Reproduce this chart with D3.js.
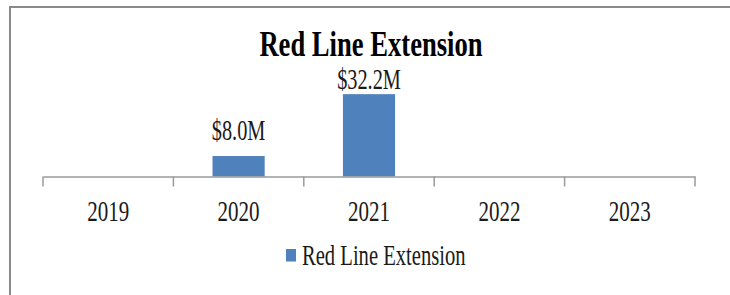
<!DOCTYPE html>
<html>
<head>
<meta charset="utf-8">
<script src="https://cdn.jsdelivr.net/npm/d3@7"></script>
<style>
  html, body { margin: 0; padding: 0; background: #fff; }
  svg { display: block; font-family: "Liberation Serif", serif; }
</style>
</head>
<body>
<div id="chart"></div>
<script>
// data (millions of dollars, null = no spending that year)
const years = ['2019', '2020', '2021', '2022', '2023'];
const spend = [null, 8.0, 32.2, null, null];
const seriesName = 'Red Line Extension';
const chartTitle = 'Red Line Extension';

const width = 730;
const height = 295;
const barColor = '#4f81bd';

const svg = d3.select('#chart')
  .append('svg')
  .attr('width', width)
  .attr('height', height);

// the source picture is squashed sideways, so text is condensed to match
function squeeze(sel, k) {
  sel.each(function () {
    const len = this.getComputedTextLength();
    d3.select(this)
      .attr('textLength', len * k)
      .attr('lengthAdjust', 'spacingAndGlyphs');
  });
}

// chart frame (cropped on the right and bottom)
svg.append('rect')
  .attr('x', 10)
  .attr('y', 7)
  .attr('width', width)
  .attr('height', height)
  .attr('fill', 'none')
  .attr('stroke', '#8a8a8a')
  .attr('stroke-width', 2);

const x = d3.scaleBand().domain(years).range([43, 695]);
const y = d3.scaleLinear().domain([0, 35]).range([176.5, 87]);

const rows = years.map((yr, i) => ({ year: yr, value: spend[i] }))
  .filter(d => d.value != null);

// bars (Excel gap width 150%)
const barW = x.bandwidth() / 2.5;
svg.append('g')
  .selectAll('rect')
  .data(rows)
  .join('rect')
  .attr('x', d => x(d.year) + (x.bandwidth() - barW) / 2)
  .attr('y', d => y(d.value))
  .attr('width', barW)
  .attr('height', d => y(0) - y(d.value))
  .attr('fill', barColor);

// value labels (kept below the title area)
svg.append('g')
  .selectAll('text')
  .data(rows)
  .join('text')
  .attr('x', d => x(d.year) + x.bandwidth() / 2)
  .attr('y', d => Math.max(y(d.value) - 16, 89))
  .attr('text-anchor', 'middle')
  .attr('font-size', 29)
  .attr('fill', '#1a1a1a')
  .text(d => `$${d.value.toFixed(1)}M`)
  .call(squeeze, 0.7);

// category axis
const axis = svg.append('g')
  .attr('transform', `translate(0,${y(0)})`)
  .call(d3.axisBottom(x).tickSize(0).tickSizeOuter(0).tickPadding(23));
axis.select('.domain').attr('stroke', '#9a9a9a').attr('stroke-width', 1.5);
axis.selectAll('.tick text')
  .attr('font-size', 30)
  .attr('font-family', '"Liberation Serif", serif')
  .attr('fill', '#1a1a1a')
  .call(squeeze, 0.7);

// tick marks sit between the categories
const edges = years.map(d => x(d)).concat([x.range()[1]]);
axis.selectAll('.edge')
  .data(edges)
  .join('line')
  .attr('class', 'edge')
  .attr('x1', d => d)
  .attr('x2', d => d)
  .attr('y1', 0)
  .attr('y2', 10)
  .attr('stroke', '#9a9a9a')
  .attr('stroke-width', 1.5);

// title
svg.append('text')
  .attr('x', 371)
  .attr('y', 56)
  .attr('text-anchor', 'middle')
  .attr('font-size', 35)
  .attr('font-weight', 'bold')
  .attr('fill', '#000')
  .text(chartTitle)
  .call(squeeze, 0.76);

// legend
const legend = svg.append('g').attr('transform', 'translate(286,249)');
legend.append('rect')
  .attr('width', 10)
  .attr('height', 12.5)
  .attr('fill', barColor);
legend.append('text')
  .attr('x', 16)
  .attr('y', 16)
  .attr('font-size', 29)
  .attr('fill', '#1a1a1a')
  .text(seriesName)
  .call(squeeze, 0.71);
</script>
</body>
</html>
